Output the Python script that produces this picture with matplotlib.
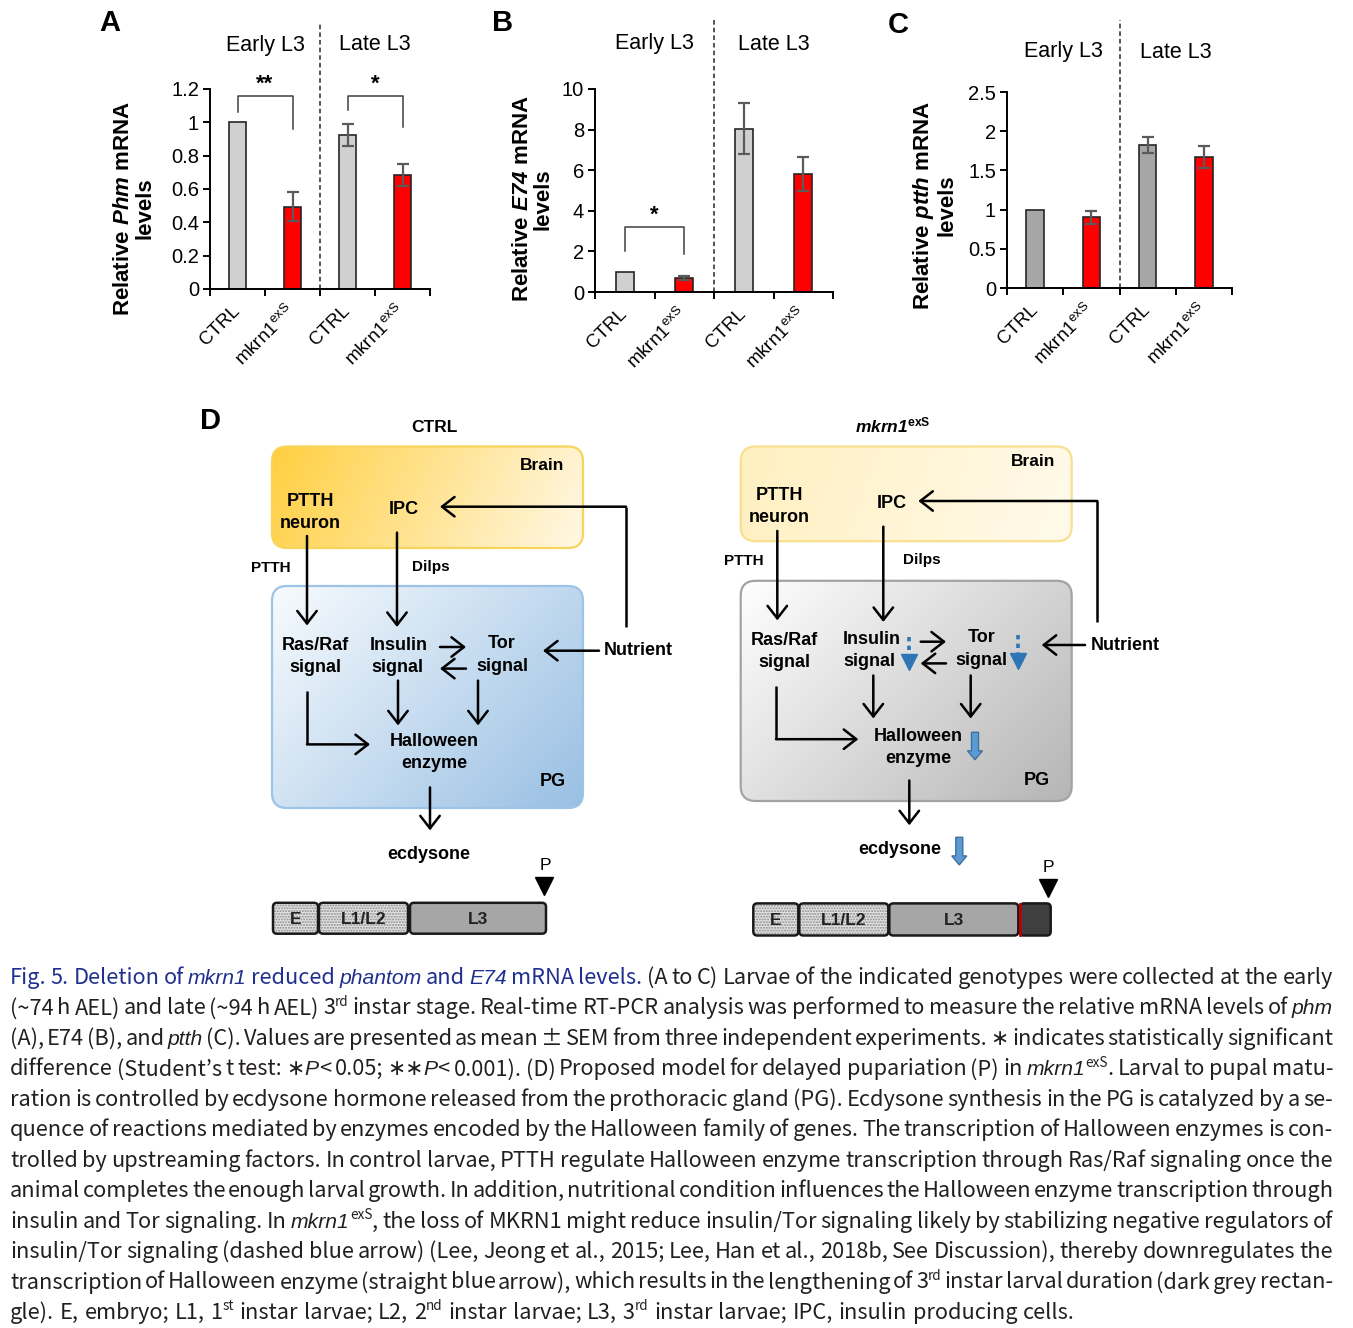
import matplotlib
matplotlib.use('Agg')
import matplotlib.pyplot as plt
import numpy as np
from matplotlib import font_manager
from matplotlib.patches import FancyBboxPatch, FancyArrow
from matplotlib.colors import to_rgb

plt.rcParams['font.family'] = ['Liberation Sans', 'DejaVu Sans']
plt.rcParams['mathtext.fontset'] = 'custom'
plt.rcParams['mathtext.rm'] = 'Liberation Sans'
plt.rcParams['mathtext.it'] = 'Liberation Sans:italic'
plt.rcParams['mathtext.bf'] = 'Liberation Sans:bold'
plt.rcParams['mathtext.bfit'] = 'Liberation Sans:italic:bold'

W, H = 1353, 1328

# ---------------- data, panels A-C ----------------
stages = ['Early L3', 'Late L3']
genotypes = ['CTRL', r'mkrn1$^{\mathrm{exS}}$']

phm_mean = [1.0, 0.495, 0.925, 0.685]
phm_sem = [0.0, 0.085, 0.065, 0.065]
e74_mean = [1.0, 0.70, 8.05, 5.82]
e74_sem = [0.0, 0.10, 1.25, 0.82]
ptth_mean = [1.0, 0.90, 1.82, 1.67]
ptth_sem = [0.0, 0.08, 0.10, 0.14]

phm_ticks = [0, 0.2, 0.4, 0.6, 0.8, 1.0, 1.2]
phm_ticklabels = ['0', '0.2', '0.4', '0.6', '0.8', '1', '1.2']
e74_ticks = [0, 2, 4, 6, 8, 10]
e74_ticklabels = ['0', '2', '4', '6', '8', '10']
ptth_ticks = [0, 0.5, 1.0, 1.5, 2.0, 2.5]
ptth_ticklabels = ['0', '0.5', '1', '1.5', '2', '2.5']

# significance brackets: (bar i, bar j, stars, top, left leg end, right leg end)
phm_sig = [(0, 1, '**', 1.158, 1.062, 0.96), (2, 3, '*', 1.158, 1.074, 0.97)]
e74_sig = [(0, 1, '*', 3.2, 2.03, 1.87)]
ptth_sig = []

RED = '#ff0000'

fig = plt.figure(figsize=(W / 100, H / 100), dpi=100)

# overlay in pixel coordinates for diagram / caption
ov = fig.add_axes([0, 0, 1, 1], zorder=5)
ov.set_xlim(0, W)
ov.set_ylim(H, 0)
ov.axis('off')


def bar_panel(letter, gene, mean, sem, ticks, ticklabels, sig, ctrl_color,
              box, stage_y, letter_xy, ylab_xy, dash_top):
    x0, x1, ytop, ybot = box
    ax = fig.add_axes([x0 / W, 1 - ybot / H, (x1 - x0) / W, (ybot - ytop) / H])
    ymax = ticks[-1]

    def py(p):  # pixel row -> data value
        return ymax * (ybot - p) / (ybot - ytop)

    xs = np.arange(4) + 0.5
    colors = [ctrl_color, RED, ctrl_color, RED]
    ax.bar(xs, mean, width=0.31, color=colors, edgecolor='#262626', linewidth=1.2, zorder=2)
    for x, m, s in zip(xs, mean, sem):
        if s > 0:
            ax.errorbar(x, m, yerr=s, color='#5a5a5a', capsize=4.5, elinewidth=1.6,
                        capthick=1.6, zorder=3)
    for i, j, stars, top, lo_i, lo_j in sig:
        ax.plot([xs[i], xs[i], xs[j], xs[j]], [lo_i, top, top, lo_j], color='#404040',
                lw=1.1, clip_on=False, zorder=3)
        ax.text((xs[i] + xs[j]) / 2, top + ymax * 0.008, stars, ha='center', va='bottom',
                fontsize=16, fontweight='bold', clip_on=False)
    ax.plot([2, 2], [0, py(dash_top)], color='#262626', lw=1.1, ls=(0, (3, 2)), clip_on=False)
    ax.set_xlim(0, 4)
    ax.set_ylim(0, ymax)
    ax.spines[['top', 'right']].set_visible(False)
    for s in ['left', 'bottom']:
        ax.spines[s].set_linewidth(1.4)
    ax.set_xticks([0, 1, 2, 3, 4])
    ax.set_xticklabels([])
    ax.set_xticks(xs, minor=True)
    ax.set_xticklabels(genotypes * 2, minor=True, rotation=45, ha='right', va='center',
                       rotation_mode='anchor', fontsize=13.5)
    ax.tick_params(axis='x', which='minor', length=0, pad=14)
    ax.tick_params(axis='x', which='major', length=5, width=1.4, direction='out')
    ax.set_yticks(ticks)
    ax.set_yticklabels(ticklabels, fontsize=14.5)
    ax.tick_params(axis='y', length=5, width=1.4, pad=3)
    for k, st in enumerate(stages):
        ax.text(1 + 2 * k, py(stage_y), st, ha='center', va='center', fontsize=15.5,
                clip_on=False)
    ov.text(letter_xy[0], letter_xy[1], letter, ha='center', va='center', fontsize=21,
            fontweight='bold')
    ov.text(ylab_xy[0], ylab_xy[1], 'Relative $\\mathbfit{%s}$ mRNA\nlevels' % gene,
            rotation=90, ha='center', va='center', fontsize=16, fontweight='bold',
            linespacing=1.0, multialignment='center')
    return ax


bar_panel('A', 'Phm', phm_mean, phm_sem, phm_ticks, phm_ticklabels, phm_sig, '#d0d0d0',
          (210, 430, 89, 289), 45, (110, 23), (134, 208), 22)
bar_panel('B', 'E74', e74_mean, e74_sem, e74_ticks, e74_ticklabels, e74_sig, '#d0d0d0',
          (595, 833, 89, 292), 44, (503, 23), (533, 199), 20)
bar_panel('C', 'ptth', ptth_mean, ptth_sem, ptth_ticks, ptth_ticklabels, ptth_sig, '#a6a6a6',
          (1007, 1232, 92, 288), 52, (898, 25), (934, 205), 20)

# ---------------- panel D: model diagram ----------------


def grad_box(x0, y0, x1, y1, c0, c1, ec, wx=1.0, wy=0.0):
    patch = FancyBboxPatch((x0, y0), x1 - x0, y1 - y0,
                           boxstyle='round,pad=0,rounding_size=15',
                           fc='none', ec=ec, lw=1.6, zorder=2)
    ov.add_patch(patch)
    u = np.linspace(0, 1, 300)
    v = np.linspace(0, 1, 200)
    U, V = np.meshgrid(u, v)
    t = (wx * U + wy * V) / (wx + wy)
    a, b = np.array(to_rgb(c0)), np.array(to_rgb(c1))
    img = a + t[..., None] * (b - a)
    im = ov.imshow(img, extent=(x0, x1, y1, y0), zorder=1, aspect='auto',
                   interpolation='bilinear')
    im.set_clip_path(patch)


def arrow(pts, lw=1.8):
    if len(pts) > 2:
        xs, ys = zip(*pts[:-1])
        ov.plot(xs, ys, color='k', lw=lw, solid_capstyle='butt', zorder=4)
    ov.annotate('', xy=pts[-1], xytext=pts[-2],
                arrowprops=dict(arrowstyle='->,head_length=0.45,head_width=0.35',
                                lw=lw, color='k', shrinkA=0, shrinkB=0,
                                mutation_scale=20), zorder=4)


def timeline(x_e, x_l12, x_l3, y0, y1, tri, dark=None):
    for (a, b), lab in zip([x_e, x_l12], ['E', 'L1/L2']):
        ov.add_patch(FancyBboxPatch((a, y0), b - a, y1 - y0, boxstyle='round,pad=0,rounding_size=4',
                                    fc='#e4e4e4', ec='#8a8a8a', lw=0, hatch='......', zorder=3))
        ov.add_patch(FancyBboxPatch((a, y0), b - a, y1 - y0, boxstyle='round,pad=0,rounding_size=4',
                                    fc='none', ec='#1a1a1a', lw=1.8, zorder=4))
        ov.text((a + b) / 2, (y0 + y1) / 2 + 1, lab, ha='center', va='center', fontsize=12.5,
                fontweight='bold', color='#222222', zorder=5)
    a, b = x_l3
    ov.add_patch(FancyBboxPatch((a, y0), b - a, y1 - y0, boxstyle='round,pad=0,rounding_size=4',
                                fc='#a6a6a6', ec='#1a1a1a', lw=1.8, zorder=4))
    ov.text((a + b) / 2, (y0 + y1) / 2 + 1, 'L3', ha='center', va='center', fontsize=12.5,
            fontweight='bold', color='#222222', zorder=5)
    if dark is not None:
        a, b = dark
        ov.add_patch(FancyBboxPatch((a, y0), b - a, y1 - y0, boxstyle='round,pad=0,rounding_size=4',
                                    fc='#3f3f3f', ec='#1a1a1a', lw=1.8, zorder=4))
        ov.plot([a - 0.5, a - 0.5], [y0 + 1, y1 - 1], color='#c00000', lw=2, zorder=5)
    ov.plot([tri[0]], [tri[1]], marker='v', ms=13, color='k', zorder=5)


def label(x, y, s, fs=13, weight='bold'):
    ov.text(x, y, s, ha='center', va='center', fontsize=fs, fontweight=weight, zorder=5)


ov.text(210, 421, 'D', ha='center', va='center', fontsize=21, fontweight='bold')

# left: CTRL
label(434, 427.5, 'CTRL', 12.5)
grad_box(272, 446.5, 583, 548, '#ffcf40', '#fff8e6', '#f8d45a', wx=1.0, wy=0.15)
grad_box(272, 586, 583, 808, '#f8fbfe', '#98bfe3', '#9dc3e6', wx=0.6, wy=0.4)
ctrl_labels = [
    (541.7, 465, 'Brain', 12.5), (310, 501.6, 'PTTH', 13), (310, 524, 'neuron', 13),
    (404, 510, 'IPC', 13), (271, 568, 'PTTH', 11), (431, 567, 'Dilps', 11),
    (315, 646, 'Ras/Raf', 13), (315, 668, 'signal', 13), (399, 645, 'Insulin', 13),
    (397, 667.5, 'signal', 13), (502, 644, 'Tor', 13), (502, 666.5, 'signal', 13),
    (638, 650.7, 'Nutrient', 13), (434, 742, 'Halloween', 13), (434, 764, 'enzyme', 13),
    (553, 782, 'PG', 13), (429, 854.5, 'ecdysone', 13),
]
for x, y, s, fs in ctrl_labels:
    label(x, y, s, fs)
label(545, 866, 'P', 12.5, 'normal')
ctrl_arrows = [
    [(626, 627), (626, 506.7), (440, 506.7)],
    [(307, 536), (307, 625.5)],
    [(397, 532.6), (397, 627)],
    [(440, 647), (466, 647)],
    [(466, 668.6), (440, 668.6)],
    [(599, 650.7), (543, 650.7)],
    [(398, 680.6), (398, 725.4)],
    [(478, 680.6), (478, 725.4)],
    [(307, 691), (307, 744.4), (370, 744.4)],
    [(430, 787.4), (430, 830.4)],
]
for pts in ctrl_arrows:
    arrow(pts)
timeline((273, 318), (319, 408), (410, 546), 902.8, 933.7, (544, 885.5))

# right: mkrn1 exS
ov.text(893, 425.8, r'$\mathbfit{mkrn1}^{\mathbf{exS}}$', ha='center', va='center',
        fontsize=12.5, zorder=5)
grad_box(740.7, 446.5, 1071.7, 541.2, '#fff0c0', '#fffaeb', '#f8e08e', wx=1.0, wy=0.1)
grad_box(740.7, 580.8, 1071.7, 801, '#ffffff', '#b5b5b5', '#a3a3a3', wx=0.6, wy=0.4)
mut_labels = [
    (1032.7, 462, 'Brain', 12.5), (779.3, 495.7, 'PTTH', 13), (779.3, 518, 'neuron', 13),
    (891.7, 503.3, 'IPC', 13), (744.3, 560.8, 'PTTH', 11), (921.7, 560, 'Dilps', 11),
    (784, 640.5, 'Ras/Raf', 13), (784, 662.5, 'signal', 13), (871.7, 639.5, 'Insulin', 13),
    (869, 661.5, 'signal', 13), (981.7, 638, 'Tor', 13), (981.7, 660.5, 'signal', 13),
    (1125, 645, 'Nutrient', 13), (918.3, 736.5, 'Halloween', 13), (918.3, 758.5, 'enzyme', 13),
    (1036.7, 780.5, 'PG', 13), (899.3, 849, 'ecdysone', 13),
]
for x, y, s, fs in mut_labels:
    label(x, y, s, fs)
label(1048.3, 867, 'P', 12.5, 'normal')
mut_arrows = [
    [(1097.3, 622), (1097.3, 501), (918.3, 501)],
    [(777.3, 530.9), (777.3, 620.4)],
    [(883.3, 526.7), (883.3, 622)],
    [(920.7, 641.7), (946, 641.7)],
    [(946, 663.4), (920.7, 663.4)],
    [(1085, 645), (1041.7, 645)],
    [(873.3, 675.5), (873.3, 718.5)],
    [(970.7, 675.5), (970.7, 718.5)],
    [(776, 685.8), (776, 739.2), (858.3, 739.2)],
    [(909.3, 780.5), (909.3, 825.3)],
]
for pts in mut_arrows:
    arrow(pts)
# dashed blue arrows (reduced insulin/Tor signalling)
for x, y0, y1 in [(909.3, 636.5, 657), (1018.3, 635, 656)]:
    ov.plot([x, x], [y0, y1], color='#2e75b6', lw=2.6, ls=(0, (1.2, 1.2)), zorder=5)
    ov.plot([x], [y1 + 5], marker='v', ms=11, color='#2e75b6', zorder=5)
# straight blue arrows
for x, y0, y1 in [(975, 732.3, 759.8), (959.3, 837.3, 864.9)]:
    ov.add_patch(FancyArrow(x, y0, 0, y1 - y0, width=7, head_width=15, head_length=9,
                            length_includes_head=True, fc='#5b9bd5', ec='#41719c', lw=1,
                            zorder=5))
timeline((753.3, 798.3), (799.3, 888.3), (889.3, 1018.3), 903.4, 935.5, (1048, 888),
         dark=(1020, 1050.7))

# ---------------- caption ----------------
# markers: @ blue title, | italic, ^ superscript
cap_lines = [
    "@Fig. 5. Deletion of |mkrn1| reduced |phantom| and |E74| mRNA levels.@ (A to C) Larvae of the indicated genotypes were collected at the early",
    "(~74 h AEL) and late (~94 h AEL) 3^rd^ instar stage. Real-time RT-PCR analysis was performed to measure the relative mRNA levels of |phm|",
    "(A), E74 (B), and |ptth| (C). Values are presented as mean \u00b1 SEM from three independent experiments. \u2217 indicates statistically significant",
    "difference (Student\u2019s t test: \u2217|P|< 0.05; \u2217\u2217|P|< 0.001). (D) Proposed model for delayed pupariation (P) in |mkrn1|^exS^. Larval to pupal matu-",
    "ration is controlled by ecdysone hormone released from the prothoracic gland (PG). Ecdysone synthesis in the PG is catalyzed by a se-",
    "quence of reactions mediated by enzymes encoded by the Halloween family of genes. The transcription of Halloween enzymes is con-",
    "trolled by upstreaming factors. In control larvae, PTTH regulate Halloween enzyme transcription through Ras/Raf signaling once the",
    "animal completes the enough larval growth. In addition, nutritional condition influences the Halloween enzyme transcription through",
    "insulin and Tor signaling. In |mkrn1|^exS^, the loss of MKRN1 might reduce insulin/Tor signaling likely by stabilizing negative regulators of",
    "insulin/Tor signaling (dashed blue arrow) (Lee, Jeong et al., 2015; Lee, Han et al., 2018b, See Discussion), thereby downregulates the",
    "transcription of Halloween enzyme (straight blue arrow), which results in the lengthening of 3^rd^ instar larval duration (dark grey rectan-",
    "gle). E, embryo; L1, 1^st^ instar larvae; L2, 2^nd^ instar larvae; L3, 3^rd^ instar larvae; IPC, insulin producing cells.",
]

names = {f.name for f in font_manager.fontManager.ttflist}
cap_font = 'Liberation Sans Narrow' if 'Liberation Sans Narrow' in names else 'Noto Sans CJK KR'
cap_family = [cap_font, 'Noto Sans CJK KR', 'DejaVu Sans']
ital_family = ['Liberation Sans Narrow' if 'Liberation Sans Narrow' in names else 'Liberation Sans',
               'DejaVu Sans']
CAP_X0, CAP_X1 = 10, 1333
CAP_Y0, CAP_DY = 984, 30.45


def parse(line):
    words = []
    blue = ital = sup = False
    for tok in line.split(' '):
        runs, buf = [], ''
        for ch in tok:
            if ch in '@|^':
                if buf:
                    runs.append((buf, blue, ital, sup))
                    buf = ''
                if ch == '@':
                    blue = not blue
                elif ch == '|':
                    ital = not ital
                else:
                    sup = not sup
            else:
                buf += ch
        if buf:
            runs.append((buf, blue, ital, sup))
        if runs:
            words.append(runs)
    return words


renderer = fig.canvas.get_renderer()


def build_caption(fs):
    out = []
    for i, line in enumerate(cap_lines):
        y = CAP_Y0 + i * CAP_DY
        wobjs = []
        for runs in parse(line):
            objs = []
            for txt, blue, ital, sup in runs:
                size = fs * (0.62 if sup else 1.0) * (0.97 if ital else 1.0)
                t = ov.text(0, y - (0.4 * fs * 100 / 72 if sup else 0), txt, fontsize=size,
                            family=ital_family if ital else cap_family,
                            style='italic' if ital else 'normal',
                            color='#1f2f8f' if blue else '#231f20', ha='left', va='baseline')
                objs.append(t)
            wobjs.append(objs)
        widths = [[t.get_window_extent(renderer).width for t in w] for w in wobjs]
        out.append((wobjs, widths))
    return out


cap_fs = 16
lines = build_caption(cap_fs)
need = max(sum(sum(w) for w in widths) + 3 * (len(widths) - 1)
           for _, widths in lines[:-1])
if need > CAP_X1 - CAP_X0:
    for wobjs, _ in lines:
        for w in wobjs:
            for t in w:
                t.remove()
    cap_fs *= (CAP_X1 - CAP_X0) / need
    lines = build_caption(cap_fs)

space_w = 0.26 * cap_fs * 100 / 72
for k, (wobjs, widths) in enumerate(lines):
    total = sum(sum(w) for w in widths)
    if k < len(lines) - 1:
        gap = (CAP_X1 - CAP_X0 - total) / (len(wobjs) - 1)
    else:
        gap = space_w
    x = CAP_X0
    for w, ws in zip(wobjs, widths):
        for t, tw in zip(w, ws):
            t.set_x(x)
            x += tw
        x += gap

ov.set_xlim(0, W)
ov.set_ylim(H, 0)
fig.savefig('out.png', dpi=100)
